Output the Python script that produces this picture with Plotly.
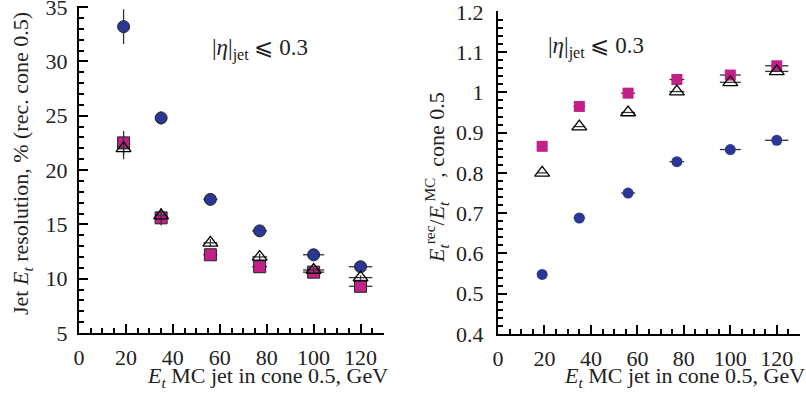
import plotly.graph_objects as go

# ---------------- data ----------------
et_mc = [19, 35, 56, 77, 100, 120]
et_err = [2.0, 2.5, 3.0, 3.2, 4.5, 5.0]

# left: resolution, %
res_circle = [33.2, 24.8, 17.3, 14.4, 12.2, 11.1]
res_circle_err = [1.6, 0.6, 0.35, 0.3, 0.25, 0.2]
res_square = [22.5, 15.6, 12.2, 11.1, 10.6, 9.3]
res_square_err = [1.1, 0.7, 0.35, 0.3, 0.25, 0.2]
res_tri = [22.0, 15.8, 13.3, 12.0, 10.8, 10.1]
res_tri_err = [1.0, 0.7, 0.35, 0.3, 0.25, 0.2]

# right: response Erec/EMC
resp_circle = [0.548, 0.688, 0.750, 0.828, 0.858, 0.881]
resp_square = [0.866, 0.965, 0.998, 1.032, 1.043, 1.066]
resp_tri = [0.800, 0.915, 0.950, 1.002, 1.025, 1.052]

x_ticks = [0, 20, 40, 60, 80, 100, 120]

# ---------------- style ----------------
W, H = 806, 398
BLUE = "#2b3794"
MAG = "#c02088"
EDGE = "#222222"
ERR = "#333333"
FONT = "'Liberation Serif', 'Times New Roman', Times, serif"
FS = 22

def px_x(p):
    return p / W

def px_y(p):
    return 1 - p / H

fig = go.Figure()

def add_series(x, y, ex, ey, xa, ya, symbol, color, line_color, line_w, size):
    fig.add_trace(go.Scatter(
        x=x, y=y, mode="markers", xaxis=xa, yaxis=ya,
        marker=dict(symbol=symbol, color=color, size=size,
                    line=dict(color=line_color, width=line_w)),
        error_x=dict(type="data", array=ex, color=ERR, thickness=1.3, width=0),
        error_y=dict(type="data", array=ey, color=ERR, thickness=1.3, width=0),
        showlegend=False, cliponaxis=False,
    ))

# left panel
add_series(et_mc, res_circle, et_err, res_circle_err, "x", "y", "circle", BLUE, EDGE, 1, 12)
add_series(et_mc, res_square, et_err, res_square_err, "x", "y", "square", MAG, EDGE, 1, 12)
add_series(et_mc, res_tri, et_err, res_tri_err, "x", "y", "triangle-up-open", "black", "black", 1.3, 13)

# right panel
zero = [0] * len(et_mc)
add_series(et_mc, resp_circle, et_err, zero, "x2", "y2", "circle", BLUE, BLUE, 0, 11)
add_series(et_mc, resp_square, et_err, zero, "x2", "y2", "square", MAG, MAG, 0, 11)
add_series(et_mc, resp_tri, et_err, zero, "x2", "y2", "triangle-up-open", "black", "black", 1.3, 13)

axis_common = dict(
    showline=True, linecolor="black", linewidth=2, mirror=False,
    showgrid=False, zeroline=False, ticks="inside", ticklen=9, tickwidth=2,
    tickcolor="black", tickfont=dict(family=FONT, size=FS, color="#222"),
    automargin=False, ticklabeloverflow="allow",
)

fig.update_layout(
    width=W, height=H, margin=dict(l=0, r=0, t=0, b=0),
    paper_bgcolor="white", plot_bgcolor="white",
    font=dict(family=FONT, size=FS, color="#222"),
    xaxis=dict(domain=[px_x(79), px_x(384)], range=[0, 130], tickvals=x_ticks,
               minor=dict(dtick=5, tick0=0, ticks="inside", ticklen=5, tickwidth=1.5, tickcolor="black"),
               anchor="y", ticklabelstandoff=4, **axis_common),
    yaxis=dict(domain=[px_y(333), px_y(6)], range=[5, 35.1], dtick=5, tick0=5,
               minor=dict(dtick=1, tick0=5, ticks="inside", ticklen=5, tickwidth=1.5, tickcolor="black"),
               anchor="x", ticklabelstandoff=5, **axis_common),
    xaxis2=dict(domain=[px_x(498), px_x(800)], range=[0, 130], tickvals=x_ticks,
                minor=dict(dtick=5, tick0=0, ticks="inside", ticklen=5, tickwidth=1.5, tickcolor="black"),
                anchor="y2", ticklabelstandoff=4, **axis_common),
    yaxis2=dict(domain=[px_y(334), px_y(11)], range=[0.4, 1.202], dtick=0.1, tick0=0.4,
                tickvals=[0.4, 0.5, 0.6, 0.7, 0.8, 0.9, 1.0, 1.1, 1.2],
                ticktext=["0.4", "0.5", "0.6", "0.7", "0.8", "0.9", "1", "1.1", "1.2"],
                minor=dict(dtick=0.02, tick0=0.4, ticks="inside", ticklen=5, tickwidth=1.5, tickcolor="black"),
                anchor="x2", ticklabelstandoff=8, **axis_common),
)

tfont = dict(family=FONT, size=FS, color="#222")
afont = dict(family=FONT, size=23, color="#222")
et = "<i>E<sub>t</sub></i>"
annotations = [
    dict(x=px_x(390), y=px_y(393), xref="paper", yref="paper", xanchor="right", yanchor="bottom",
         text=f"{et} MC jet in cone 0.5, GeV", showarrow=False, font=tfont),
    dict(x=px_x(807), y=px_y(393), xref="paper", yref="paper", xanchor="right", yanchor="bottom",
         text=f"{et} MC jet in cone 0.5, GeV", showarrow=False, font=tfont),
    dict(x=px_x(22), y=px_y(164), xref="paper", yref="paper", xanchor="center", yanchor="middle",
         textangle=-90, text=f"Jet {et} resolution, % (rec. cone 0.5)", showarrow=False, font=tfont),
    dict(x=px_x(436), y=px_y(178), xref="paper", yref="paper", xanchor="center", yanchor="middle",
         textangle=-90,
         text="<i>E<sub>t</sub></i><sup>rec</sup>/<i>E<sub>t</sub></i><sup>MC</sup>, cone 0.5",
         showarrow=False, font=tfont),
    dict(x=px_x(210), y=px_y(50), xref="paper", yref="paper", xanchor="left", yanchor="middle",
         text="|<i>η</i>|<sub>jet</sub> ⩽ 0.3", showarrow=False, font=afont),
    dict(x=px_x(546), y=px_y(48), xref="paper", yref="paper", xanchor="left", yanchor="middle",
         text="|<i>η</i>|<sub>jet</sub> ⩽ 0.3", showarrow=False, font=afont),
]
fig.update_layout(annotations=annotations)

fig.write_html("out.html")
